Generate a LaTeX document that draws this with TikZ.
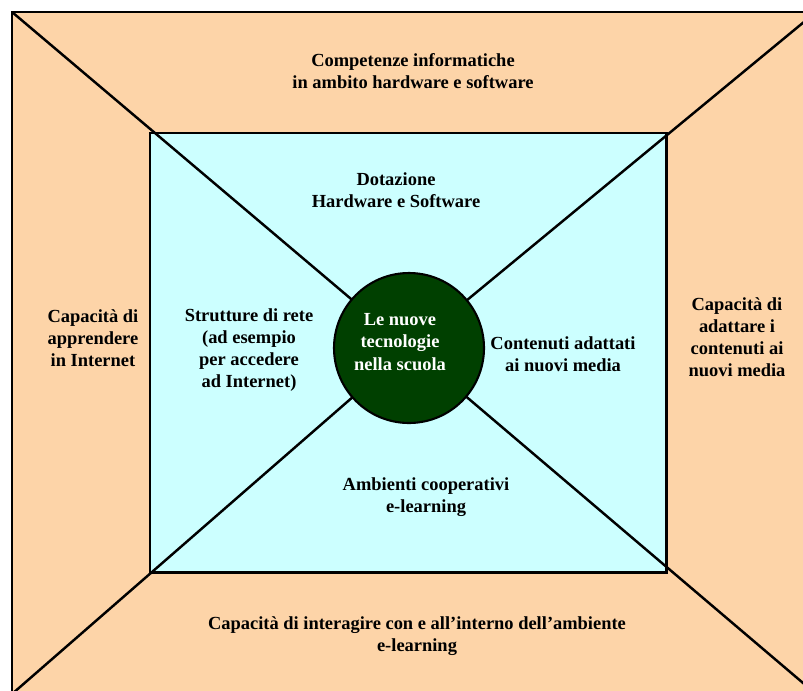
\documentclass[tikz,border=0pt]{standalone}
\usepackage{fontspec}
\setmainfont{Liberation Serif}
\definecolor{peach}{RGB}{253,212,168}
\definecolor{paleblue}{RGB}{204,255,255}
\definecolor{schoolgreen}{RGB}{0,64,0}

\begin{document}
\begin{tikzpicture}[x=0.02cm,y=-0.02cm,
	label/.style={align=center,inner sep=0pt,font=\bfseries\fontsize{10.5}{12.6}\selectfont}]
			\useasboundingbox (0,0) rectangle (803,690);
			\clip (0,0) rectangle (803,690);
			
			\coordinate (tl) at (12,12);
			\coordinate (tr) at (816,12);
			\coordinate (bl) at (12,694);
			\coordinate (br) at (816,694);
			\coordinate (mid) at (409,348);
			
			\draw[line width=1.7pt,fill=peach](tl) rectangle (br);
			\draw[line width=1.7pt,fill=paleblue](150,133) rectangle (666,572);
			
			\draw[line width=1.4pt](tl)--(mid);
			\draw[line width=1.4pt](tr)--(mid);
			\draw[line width=1.4pt](bl)--(mid);
			\draw[line width=1.4pt](br)--(mid);
			
			\node[circle,draw,line width=1.2pt,fill=schoolgreen,minimum size=3cm,inner sep=0pt] (core) at (mid) {};
			\node[label,text=white] (coretext) at (400,342) {Le nuove\\tecnologie\\nella scuola};
			
			\node[label] (top) at (413,71) {Competenze informatiche\\in ambito hardware e software};
			\node[label] (left) at (93,338) {Capacità di\\apprendere\\in Internet};
			\node[label] (right) at (737,337) {Capacità di\\adattare i\\contenuti ai\\nuovi media};
			\node[label] (bottom) at (417,636) {Capacità di interagire con e all’interno dell’ambiente\\e-learning};
			
			\node[label] (hw) at (396,190) {Dotazione\\Hardware e Software};
			\node[label] (net) at (249,350) {Strutture di rete\\(ad esempio\\per accedere\\ad Internet)};
			\node[label] (media) at (563,354) {Contenuti adattati\\ai nuovi media};
			\node[label] (coop) at (426,497) {Ambienti cooperativi\\e-learning};
			\end{tikzpicture}
\end{document}
